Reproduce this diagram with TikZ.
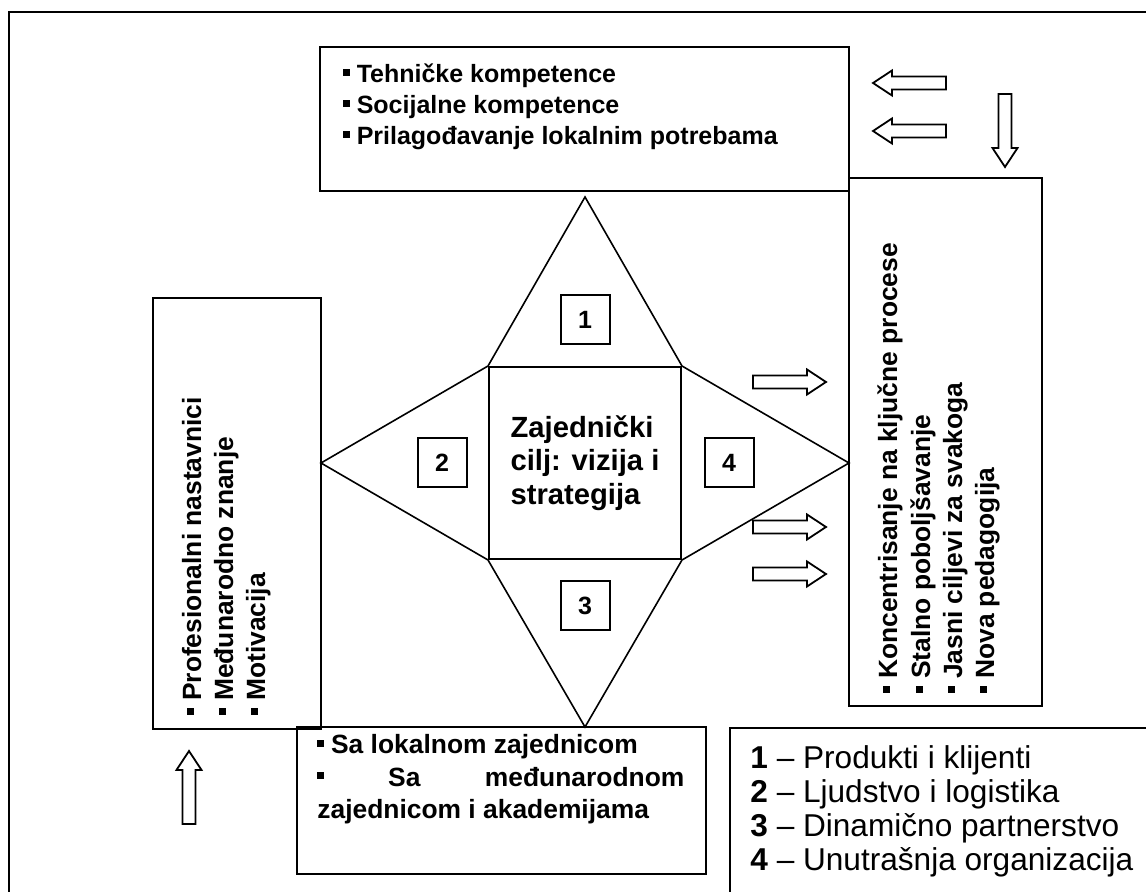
\documentclass[tikz,border=0pt]{standalone}
\usepackage{fontspec}
\setmainfont{Liberation Sans}
\usetikzlibrary{positioning,fit}

% small square bullet
\newcommand{\sq}{\rule[3.6pt]{3.2pt}{3.2pt}}

\tikzset{
  box/.style={draw=black, line width=1pt, inner sep=0pt},
  numbox/.style={draw=black, line width=1pt, minimum size=24.5pt, inner sep=0pt, font=\bfseries\fontsize{12.5}{14}\selectfont},
  item/.style={anchor=base west, inner sep=0pt, font=\bfseries\fontsize{13.2}{15}\selectfont},
  topitem/.style={item, font=\bfseries\fontsize{12.5}{15}\selectfont},
  vitem/.style={item, rotate=90},
  keyline/.style={anchor=base west, inner sep=0pt, font=\fontsize{15.8}{18}\selectfont},
  wing/.style={draw=black, line width=0.8pt, line join=miter},
  fatarrow/.pic={\draw[line width=0.9pt, fill=white] (0,-6.5) -- (54,-6.5) -- (54,-12.5) -- (73,0) -- (54,12.5) -- (54,6.5) -- (0,6.5) -- cycle;}
}

\begin{document}
\begin{tikzpicture}[x=0.5pt, y=-0.5pt]
\useasboundingbox (0,0) rectangle (1146,892);
\clip (0,0) rectangle (1146,892);
% outer frame, runs off on the right and bottom
\draw[line width=1pt] (9,12) rectangle (1170,910);

% centre and the four wings
\node[box, fit={(489,367) (681,559)}] (goal) {};
\node[align=left, inner sep=0pt, font=\bfseries\fontsize{14.6}{16.8}\selectfont] (goaltext) at (goal.center) {Zajednički\\cilj: vizija i\\strategija};
\coordinate (apexN) at (585,197);
\coordinate (apexW) at (321,463);
\coordinate (apexE) at (849,463);
\coordinate (apexS) at (585,727);
\draw[wing] (goal.north west) -- (apexN) -- (goal.north east);
\draw[wing] (goal.north west) -- (apexW) -- (goal.south west);
\draw[wing] (goal.north east) -- (apexE) -- (goal.south east);
\draw[wing] (goal.south west) -- (apexS) -- (goal.south east);
\node[numbox] (n1) at (585,320) {1};
\node[numbox] (n2) at (442,463) {2};
\node[numbox] (n3) at (585,606) {3};
\node[numbox] (n4) at (729,463) {4};

% top box
\node[box, fit={(320,47) (849,191)}] (skills) {};
\node[topitem] (skillsA) at (343,83) {\sq\ Tehničke kompetence};
\node[topitem] (skillsB) at (343,114) {\sq\ Socijalne kompetence};
\node[topitem] (skillsC) at (343,145) {\sq\ Prilagođavanje lokalnim potrebama};

% right box
\node[box, fit={(849,178) (1042,706)}] (process) {};
\node[vitem] (processA) at (897,693) {\sq\ Koncentrisanje na ključne procese};
\node[vitem] (processB) at (930,693) {\sq\ Stalno poboljšavanje};
\node[vitem] (processC) at (962,693) {\sq\ Jasni ciljevi za svakoga};
\node[vitem] (processD) at (994,693) {\sq\ Nova pedagogija};

% left box
\node[box, fit={(153,298) (321,729)}] (staff) {};
\node[vitem] (staffA) at (201,715) {\sq\ Profesionalni nastavnici};
\node[vitem] (staffB) at (233,715) {\sq\ Međunarodno znanje};
\node[vitem] (staffC) at (265,715) {\sq\ Motivacija};

% bottom box
\node[box, fit={(297,727) (706,874)}] (partners) {};
\node[item] (partnersA) at (317,754) {\sq\ Sa lokalnom zajednicom};
\node[item] (partnersB) at (317,786) {\hbox to 183.5pt{\sq\hfill Sa\hfill međunarodnom}};
\node[item] (partnersC) at (317,818) {zajednicom i akademijama};

% legend
\node[box, fit={(730,728) (1170,910)}] (key) {};
\node[keyline] (keyA) at (750,768) {\textbf{1} – Produkti i klijenti};
\node[keyline] (keyB) at (750,802) {\textbf{2} – Ljudstvo i logistika};
\node[keyline] (keyC) at (750,836) {\textbf{3} – Dinamično partnerstvo};
\node[keyline] (keyD) at (750,870) {\textbf{4} – Unutrašnja organizacija};

% block arrows
\pic[rotate=180] at (946,83) {fatarrow};
\pic[rotate=180] at (946,131) {fatarrow};
\pic[rotate=-90] at (1005,94) {fatarrow};
\pic at (753,382) {fatarrow};
\pic at (753,527) {fatarrow};
\pic at (753,574) {fatarrow};
\pic[rotate=90] at (189,824) {fatarrow};
\end{tikzpicture}
\end{document}
